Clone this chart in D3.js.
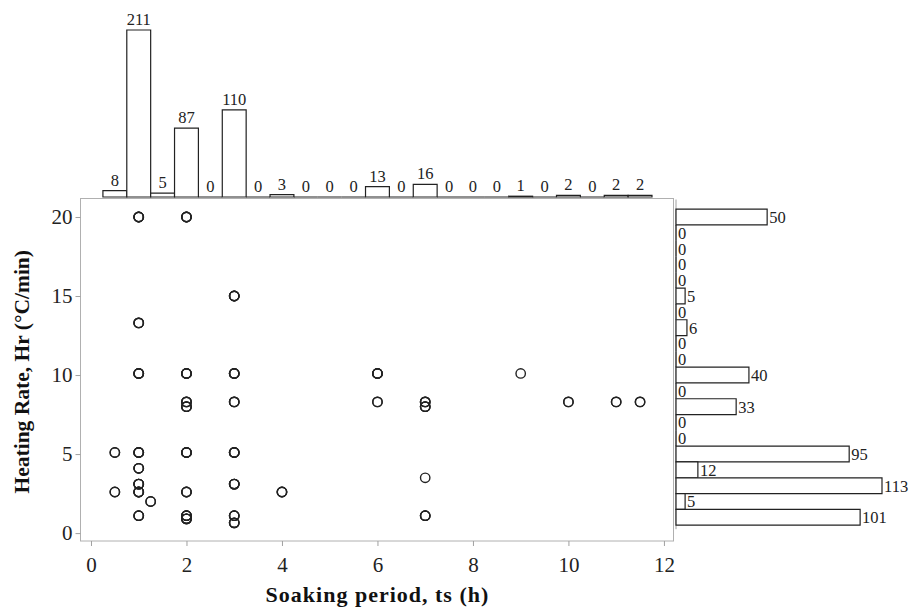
<!DOCTYPE html>
<html>
<head>
<meta charset="utf-8">
<script src="https://cdn.jsdelivr.net/npm/d3@7"></script>
<style>
  body { margin: 0; background: #fff; }
  text { font-family: "Liberation Serif", "Times New Roman", serif; }
</style>
</head>
<body>
<script>
// scatter points: soaking period (h), heating rate (°C/min), overlap weight
const soakHours = [1, 2, 3, 1, 1, 2, 3, 2, 2, 3, 6, 6, 7, 7, 9, 10, 11, 11.5,
  0.5, 1, 2, 3, 1, 1, 3, 0.5, 1, 2, 4, 1.25, 1, 2, 2, 3, 3, 7, 7];
const heatRates = [20, 20, 15, 13.3, 10.1, 10.1, 10.1, 8.3, 8.0, 8.3, 10.1, 8.3, 8.3, 8.0, 10.1, 8.3, 8.3, 8.3,
  5.1, 5.1, 5.1, 5.1, 4.1, 3.1, 3.1, 2.6, 2.6, 2.6, 2.6, 2.0, 1.1, 1.1, 0.9, 1.1, 0.65, 3.5, 1.1];
const overlap = [4, 4, 4, 3, 4, 4, 4, 3, 3, 3, 4, 2, 3, 3, 1, 2, 2, 2,
  2, 4, 4, 4, 3, 4, 4, 2, 4, 3, 3, 2, 3, 4, 4, 3, 3, 1, 3];

// marginal histogram of soaking period (bins of 0.5 h centred at 0.5 ... 11.5)
const soakBins = d3.range(23).map(i => 0.5 + 0.5 * i);
const soakCounts = [8, 211, 5, 87, 0, 110, 0, 3, 0, 0, 0, 13, 0, 16, 0, 0, 0, 1, 0, 2, 0, 2, 2];

// marginal histogram of heating rate (bins of 1 °C/min centred at 20 ... 1)
const rateBins = d3.range(20, 0, -1);
const rateCounts = [50, 0, 0, 0, 0, 5, 0, 6, 0, 0, 40, 0, 33, 0, 0, 95, 12, 113, 5, 101];

const xTicks = [0, 2, 4, 6, 8, 10, 12];
const yTicks = [0, 5, 10, 15, 20];

const width = 912, height = 608;
const frame = { left: 80, right: 673, top: 198.5, bottom: 541 };

const svg = d3.select("body").append("svg")
  .attr("width", width)
  .attr("height", height);

const x = d3.scaleLinear().domain([-0.23, 12.19]).range([frame.left, frame.right]);
const y = d3.scaleLinear().domain([-0.5, 21.17]).range([frame.bottom, frame.top]);

// frame
svg.append("rect")
  .attr("x", frame.left + 0.5).attr("y", frame.top)
  .attr("width", frame.right - frame.left).attr("height", frame.bottom - frame.top)
  .attr("fill", "none").attr("stroke", "#b0b0b0").attr("stroke-width", 1);

// axes
const xAxis = svg.append("g")
  .attr("transform", `translate(0,${frame.bottom})`)
  .call(d3.axisBottom(x).tickValues(xTicks).tickSize(5).tickPadding(6));
const yAxis = svg.append("g")
  .attr("transform", `translate(${frame.left + 0.5},0)`)
  .call(d3.axisLeft(y).tickValues(yTicks).tickSize(5).tickPadding(3));
[xAxis, yAxis].forEach(g => {
  g.select(".domain").remove();
  g.selectAll(".tick line").attr("stroke", "#a0a0a0");
  g.selectAll(".tick text")
    .attr("font-family", "Liberation Serif")
    .attr("font-size", 21)
    .attr("fill", "#222");
});
xAxis.selectAll(".tick text").attr("dy", "0.95em");

// axis titles
svg.append("text")
  .attr("x", (x(0) + x(12)) / 2).attr("y", 602)
  .attr("text-anchor", "middle")
  .attr("font-size", 22).attr("font-weight", "bold").attr("fill", "#111")
  .attr("letter-spacing", 1)
  .text("Soaking period, ts (h)");
svg.append("text")
  .attr("transform", `translate(29,${(frame.top + frame.bottom) / 2 + 2}) rotate(-90)`)
  .attr("text-anchor", "middle")
  .attr("font-size", 21.5).attr("font-weight", "bold").attr("fill", "#111")
  .text("Heating Rate, Hr (°C/min)");

// scatter circles, drawn once per overlap so stacked points look darker
const pts = [];
soakHours.forEach((s, i) => {
  for (let k = 0; k < overlap[i]; k++) pts.push([s, heatRates[i]]);
});
svg.append("g").selectAll("circle")
  .data(pts)
  .join("circle")
  .attr("cx", d => x(d[0]))
  .attr("cy", d => y(d[1]))
  .attr("r", 4.7)
  .attr("fill", "none")
  .attr("stroke", "#222")
  .attr("stroke-width", 1.4);

// top histogram
const topBase = 197;
const hTop = d3.scaleLinear().domain([0, 211]).range([0, 167]);
const topHist = svg.append("g");
topHist.selectAll("path")
  .data(soakBins)
  .join("path")
  .attr("d", (c, i) => {
    const x0 = x(c - 0.25), x1 = x(c + 0.25), y1 = topBase - hTop(soakCounts[i]);
    return `M${x0},${topBase}V${y1}H${x1}V${topBase}Z`;
  })
  .attr("fill", "#fff")
  .attr("stroke", "#222")
  .attr("stroke-width", 1.2);
topHist.selectAll("text")
  .data(soakBins)
  .join("text")
  .attr("x", c => x(c))
  .attr("y", (c, i) => topBase - hTop(soakCounts[i]) - 5)
  .attr("text-anchor", "middle")
  .attr("font-size", 16.5)
  .attr("fill", "#222")
  .text((c, i) => soakCounts[i]);

// right histogram
const rightBase = 676;
svg.append("line")
  .attr("x1", rightBase).attr("x2", rightBase)
  .attr("y1", frame.top + 1).attr("y2", y(0.5) + 4)
  .attr("stroke", "#a0a0a0");
const wRight = d3.scaleLinear().domain([0, 113]).range([0, 206]);
const rightHist = svg.append("g");
rightHist.selectAll("path")
  .data(rateBins)
  .join("path")
  .attr("d", (c, i) => {
    const y0 = y(c + 0.5), y1 = y(c - 0.5), x1 = rightBase + wRight(rateCounts[i]);
    return `M${rightBase},${y0}H${x1}V${y1}H${rightBase}Z`;
  })
  .attr("fill", "#fff")
  .attr("stroke", "#222")
  .attr("stroke-width", 1.2);
rightHist.selectAll("text")
  .data(rateBins)
  .join("text")
  .attr("x", (c, i) => rightBase + wRight(rateCounts[i]) + 2)
  .attr("y", c => y(c) + 6)
  .attr("font-size", 16.5)
  .attr("fill", "#222")
  .text((c, i) => rateCounts[i]);
</script>
</body>
</html>
